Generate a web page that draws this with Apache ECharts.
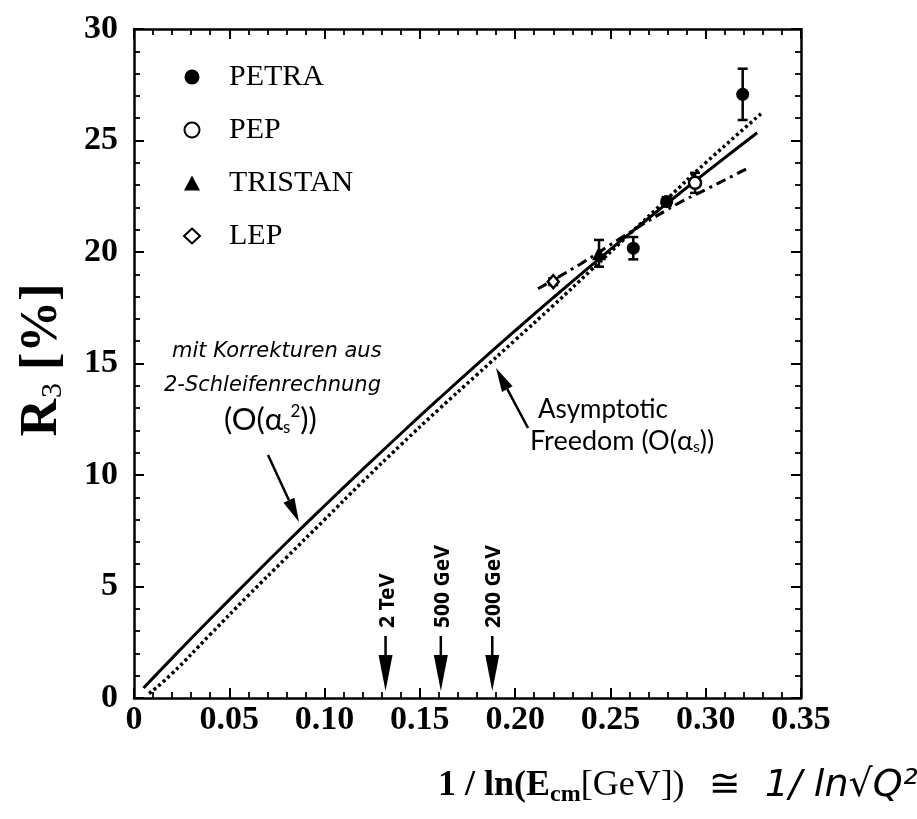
<!DOCTYPE html>
<html><head><meta charset="utf-8">
<script src="https://cdn.jsdelivr.net/npm/echarts@6/dist/echarts.min.js"></script>
<style>html,body{margin:0;padding:0;background:#fff}#c{width:917px;height:819px}</style>
</head><body><div id="c"></div>
<script>
// ---- axis ticks ----
const xTicks = [0, 0.05, 0.10, 0.15, 0.20, 0.25, 0.30, 0.35];
const xTickLabels = ['0', '0.05', '0.10', '0.15', '0.20', '0.25', '0.30', '0.35'];
const yTicks = [0, 5, 10, 15, 20, 25, 30];

// ---- curves ----
const solidX  = [0.005, 0.02, 0.04, 0.06, 0.08, 0.10, 0.12, 0.14, 0.16, 0.18, 0.20, 0.22, 0.24, 0.26, 0.28, 0.30, 0.327];
const solidY  = [0.45, 1.79, 3.54, 5.26, 6.96, 8.62, 10.25, 11.85, 13.42, 14.96, 16.47, 17.95, 19.40, 20.82, 22.20, 23.56, 25.35];
const dottedX = [0.008, 0.02, 0.04, 0.06, 0.08, 0.10, 0.12, 0.14, 0.16, 0.18, 0.20, 0.22, 0.24, 0.26, 0.28, 0.30, 0.329];
const dottedY = [0.2, 1.1, 2.85, 4.6, 6.3, 8.0, 9.7, 11.35, 12.95, 14.5, 16.05, 17.6, 19.2, 20.8, 22.4, 24.0, 26.2];
const dashX   = [0.212, 0.235, 0.255, 0.285, 0.300, 0.322];
const dashY   = [18.35, 19.5, 20.6, 22.15, 22.8, 23.75];

// ---- measurements ----
const petraX = [0.262, 0.2795, 0.3194];
const petraY = [20.17, 22.26, 27.07];
const petraErr = [0.5, 0.2, 1.15];
const pepX = [0.2944];
const pepY = [23.1];
const pepErr = [0.45];
const tristanX = [0.244];
const tristanY = [19.94];
const tristanErr = [0.6];
const lepX = [0.220];
const lepY = [18.67];
const lepErr = [0.15];

// ---- energy markers ----
const energyX = [0.132, 0.161, 0.188];
const energyLabels = ['2 TeV', '500 GeV', '200 GeV'];

const zip = (a, b) => a.map((v, i) => [v, b[i]]);
const zip3 = (a, b, c) => a.map((v, i) => [v, b[i], c[i]]);

const SERIF = 'Liberation Serif';
const AXC = '#000';

function errRender(params, api) {
  const x = api.value(0), y = api.value(1), e = api.value(2);
  const lo = api.coord([x, y - e]), hi = api.coord([x, y + e]);
  const w = 5;
  const st = { stroke: '#000', lineWidth: 2.5 };
  return { type: 'group', children: [
    { type: 'line', shape: { x1: lo[0], y1: lo[1], x2: hi[0], y2: hi[1] }, style: st },
    { type: 'line', shape: { x1: lo[0] - w, y1: lo[1], x2: lo[0] + w, y2: lo[1] }, style: st },
    { type: 'line', shape: { x1: hi[0] - w, y1: hi[1], x2: hi[0] + w, y2: hi[1] }, style: st }
  ]};
}

function energyRender(params, api) {
  const x = api.value(0);
  const p = api.coord([x, 0]);
  const label = energyLabels[params.dataIndex];
  return { type: 'group', children: [
    { type: 'line', shape: { x1: p[0], y1: p[1] - 62, x2: p[0], y2: p[1] - 40 }, style: { stroke: '#000', lineWidth: 2.5 } },
    { type: 'polygon', shape: { points: [[p[0], p[1] - 7], [p[0] - 7, p[1] - 43], [p[0] + 7, p[1] - 43]] }, style: { fill: '#000' } },
    { type: 'text', x: p[0] + 2, y: p[1] - 70, rotation: Math.PI / 2,
      style: { text: label, fontSize: 21, fontWeight: 'bold', fontFamily: 'Noto Sans', fill: '#000', align: 'left', verticalAlign: 'middle' } }
  ]};
}

function arrow(x1, y1, x2, y2, hl, hw) {
  const dx = x2 - x1, dy = y2 - y1, L = Math.hypot(dx, dy), ux = dx / L, uy = dy / L;
  const bx = x2 - ux * hl, by = y2 - uy * hl, px = -uy, py = ux;
  return [
    { type: 'line', shape: { x1: x1, y1: y1, x2: bx, y2: by }, style: { stroke: '#000', lineWidth: 2.5 } },
    { type: 'polygon', shape: { points: [[x2, y2], [bx + px * hw / 2, by + py * hw / 2], [bx - px * hw / 2, by - py * hw / 2]] }, style: { fill: '#000' } }
  ];
}

const tickLabelFmt = v => {
  const i = xTicks.findIndex(t => Math.abs(t - v) < 1e-9);
  return i >= 0 ? xTickLabels[i] : '';
};
const yLabelFmt = v => (yTicks.includes(v) ? String(v) : '');

const baseTick = { show: true, inside: true, length: 10, lineStyle: { color: AXC, width: 2 } };
const baseMinor = { show: true, splitNumber: 5, length: 6, lineStyle: { color: AXC, width: 1.8 } };
const axisLine = { show: true, onZero: false, lineStyle: { color: AXC, width: 2.5 } };
const labelStyle = { color: '#000', fontFamily: SERIF, fontWeight: 'bold', fontSize: 34 };

const option = {
  animation: false,
  backgroundColor: '#fff',
  grid: { left: 134, top: 29, right: 116, bottom: 121 },
  xAxis: [
    { type: 'value', min: 0, max: 0.35, interval: 0.05, position: 'bottom',
      axisLine: axisLine, axisTick: baseTick, minorTick: baseMinor, splitLine: { show: false },
      axisLabel: Object.assign({ margin: 5, formatter: tickLabelFmt }, labelStyle) },
    { type: 'value', min: 0, max: 0.35, interval: 0.05, position: 'top',
      axisLine: axisLine, axisTick: baseTick, minorTick: baseMinor, splitLine: { show: false },
      axisLabel: { show: false } }
  ],
  yAxis: [
    { type: 'value', min: 0, max: 30, interval: 5, position: 'left',
      axisLine: axisLine, axisTick: baseTick, minorTick: baseMinor, splitLine: { show: false },
      axisLabel: Object.assign({ margin: 16, formatter: yLabelFmt, padding: [0, 0, 8, 0] }, labelStyle) },
    { type: 'value', min: 0, max: 30, interval: 5, position: 'right',
      axisLine: axisLine, axisTick: baseTick, minorTick: baseMinor, splitLine: { show: false },
      axisLabel: { show: false } }
  ],
  legend: {
    orient: 'vertical', left: 183, top: 62, itemWidth: 16, itemHeight: 15, itemGap: 23,
    padding: 0, selectedMode: false,
    textStyle: { fontFamily: SERIF, fontSize: 30, color: '#000', padding: [0, 0, 0, 24] },
    data: [
      { name: 'PETRA', icon: 'circle' },
      { name: 'PEP', icon: 'circle' },
      { name: 'TRISTAN', icon: 'triangle' },
      { name: 'LEP', icon: 'diamond' }
    ]
  },
  series: [
    { type: 'line', name: 'O(αs²)', data: zip(solidX, solidY), showSymbol: false, smooth: true,
      lineStyle: { color: '#000', width: 3 }, z: 2 },
    { type: 'line', name: 'O(αs)', data: zip(dottedX, dottedY), showSymbol: false, smooth: true,
      lineStyle: { color: '#000', width: 3.5, type: [3, 3] }, z: 2 },
    { type: 'line', name: 'alt', data: zip(dashX, dashY), showSymbol: false, smooth: true,
      lineStyle: { color: '#000', width: 3, type: [10, 5, 3, 5] }, z: 2 },
    { type: 'custom', name: 'errPETRA', renderItem: errRender, data: zip3(petraX, petraY, petraErr), z: 3 },
    { type: 'custom', name: 'errPEP', renderItem: errRender, data: zip3(pepX, pepY, pepErr), z: 3 },
    { type: 'custom', name: 'errTRISTAN', renderItem: errRender, data: zip3(tristanX, tristanY, tristanErr), z: 3 },
    { type: 'custom', name: 'errLEP', renderItem: errRender, data: zip3(lepX, lepY, lepErr), z: 3 },
    { type: 'scatter', name: 'PETRA', data: zip(petraX, petraY), symbol: 'circle', symbolSize: 13,
      itemStyle: { color: '#000', opacity: 1 }, z: 5 },
    { type: 'scatter', name: 'PEP', data: zip(pepX, pepY), symbol: 'circle', symbolSize: 12,
      itemStyle: { color: '#fff', borderColor: '#000', borderWidth: 2.5, opacity: 1 }, z: 5 },
    { type: 'scatter', name: 'TRISTAN', data: zip(tristanX, tristanY), symbol: 'triangle', symbolSize: 14,
      itemStyle: { color: '#000', opacity: 1 }, z: 5 },
    { type: 'scatter', name: 'LEP', data: zip(lepX, lepY), symbol: 'diamond', symbolSize: [11, 13],
      itemStyle: { color: '#fff', borderColor: '#000', borderWidth: 2.5, opacity: 1 }, z: 5 },
    { type: 'custom', name: 'energies', renderItem: energyRender, data: energyX.map(v => [v, 0]), z: 4 }
  ],
  graphic: [
    // y-axis title
    { type: 'text', x: 43, y: 360, rotation: Math.PI / 2,
      style: { text: '{r|R}{s|3}{b| [%]}', align: 'center', verticalAlign: 'middle',
        rich: { r: { fontFamily: SERIF, fontWeight: 'bold', fontSize: 52, fill: '#000' },
                s: { fontFamily: SERIF, fontSize: 30, fill: '#000', padding: [20, 0, 0, 1] },
                b: { fontFamily: SERIF, fontWeight: 'bold', fontSize: 52, fill: '#000' } } } },
    // x-axis title
    { type: 'text', x: 438, y: 786,
      style: { text: '{b|1 / ln(E}{s|cm}{n|[GeV])}{h|  ≅  1/ ln√Q²}', align: 'left', verticalAlign: 'middle',
        rich: { b: { fontFamily: SERIF, fontWeight: 'bold', fontSize: 36, fill: '#000' },
                s: { fontFamily: SERIF, fontWeight: 'bold', fontSize: 24, fill: '#000', padding: [18, 0, 0, 0] },
                n: { fontFamily: SERIF, fontSize: 36, fill: '#000' },
                h: { fontFamily: 'DejaVu Sans', fontStyle: 'italic', fontSize: 38, fill: '#000' } } } },
    // handwritten annotation
    { type: 'text', x: 172, y: 352,
      style: { text: 'mit Korrekturen aus', fontFamily: 'DejaVu Sans', fontStyle: 'italic', fontSize: 21, fill: '#000', verticalAlign: 'middle' } },
    { type: 'text', x: 164, y: 386,
      style: { text: '2-Schleifenrechnung', fontFamily: 'DejaVu Sans', fontStyle: 'italic', fontSize: 21, fill: '#000', verticalAlign: 'middle' } },
    { type: 'text', x: 224, y: 420,
      style: { text: '{a|(O(α}{s|s}{p|2}{a|))}', verticalAlign: 'middle',
        rich: { a: { fontFamily: 'Lato', fontSize: 31, fill: '#000' },
                s: { fontFamily: 'Lato', fontSize: 17, fill: '#000', padding: [16, 0, 0, 0] },
                p: { fontFamily: 'Lato', fontSize: 17, fill: '#000', padding: [0, 0, 16, 0] } } } },
    ...arrow(268, 455, 299, 522, 24, 12),
    // asymptotic freedom annotation
    { type: 'text', x: 538, y: 410,
      style: { text: 'Asymptotic', fontFamily: 'Lato', fontSize: 26, fill: '#000', verticalAlign: 'middle' } },
    { type: 'text', x: 530, y: 441,
      style: { text: '{a|Freedom (O(α}{s|s}{a|))}', verticalAlign: 'middle',
        rich: { a: { fontFamily: 'Lato', fontSize: 27, fill: '#000' },
                s: { fontFamily: 'Lato', fontSize: 16, fill: '#000', padding: [12, 0, 0, 0] } } } },
    ...arrow(528, 428, 496, 368, 24, 12)
  ]
};

const chart = echarts.init(document.getElementById('c'), null, { renderer: 'canvas' });
chart.setOption(option);
</script>
</body></html>
